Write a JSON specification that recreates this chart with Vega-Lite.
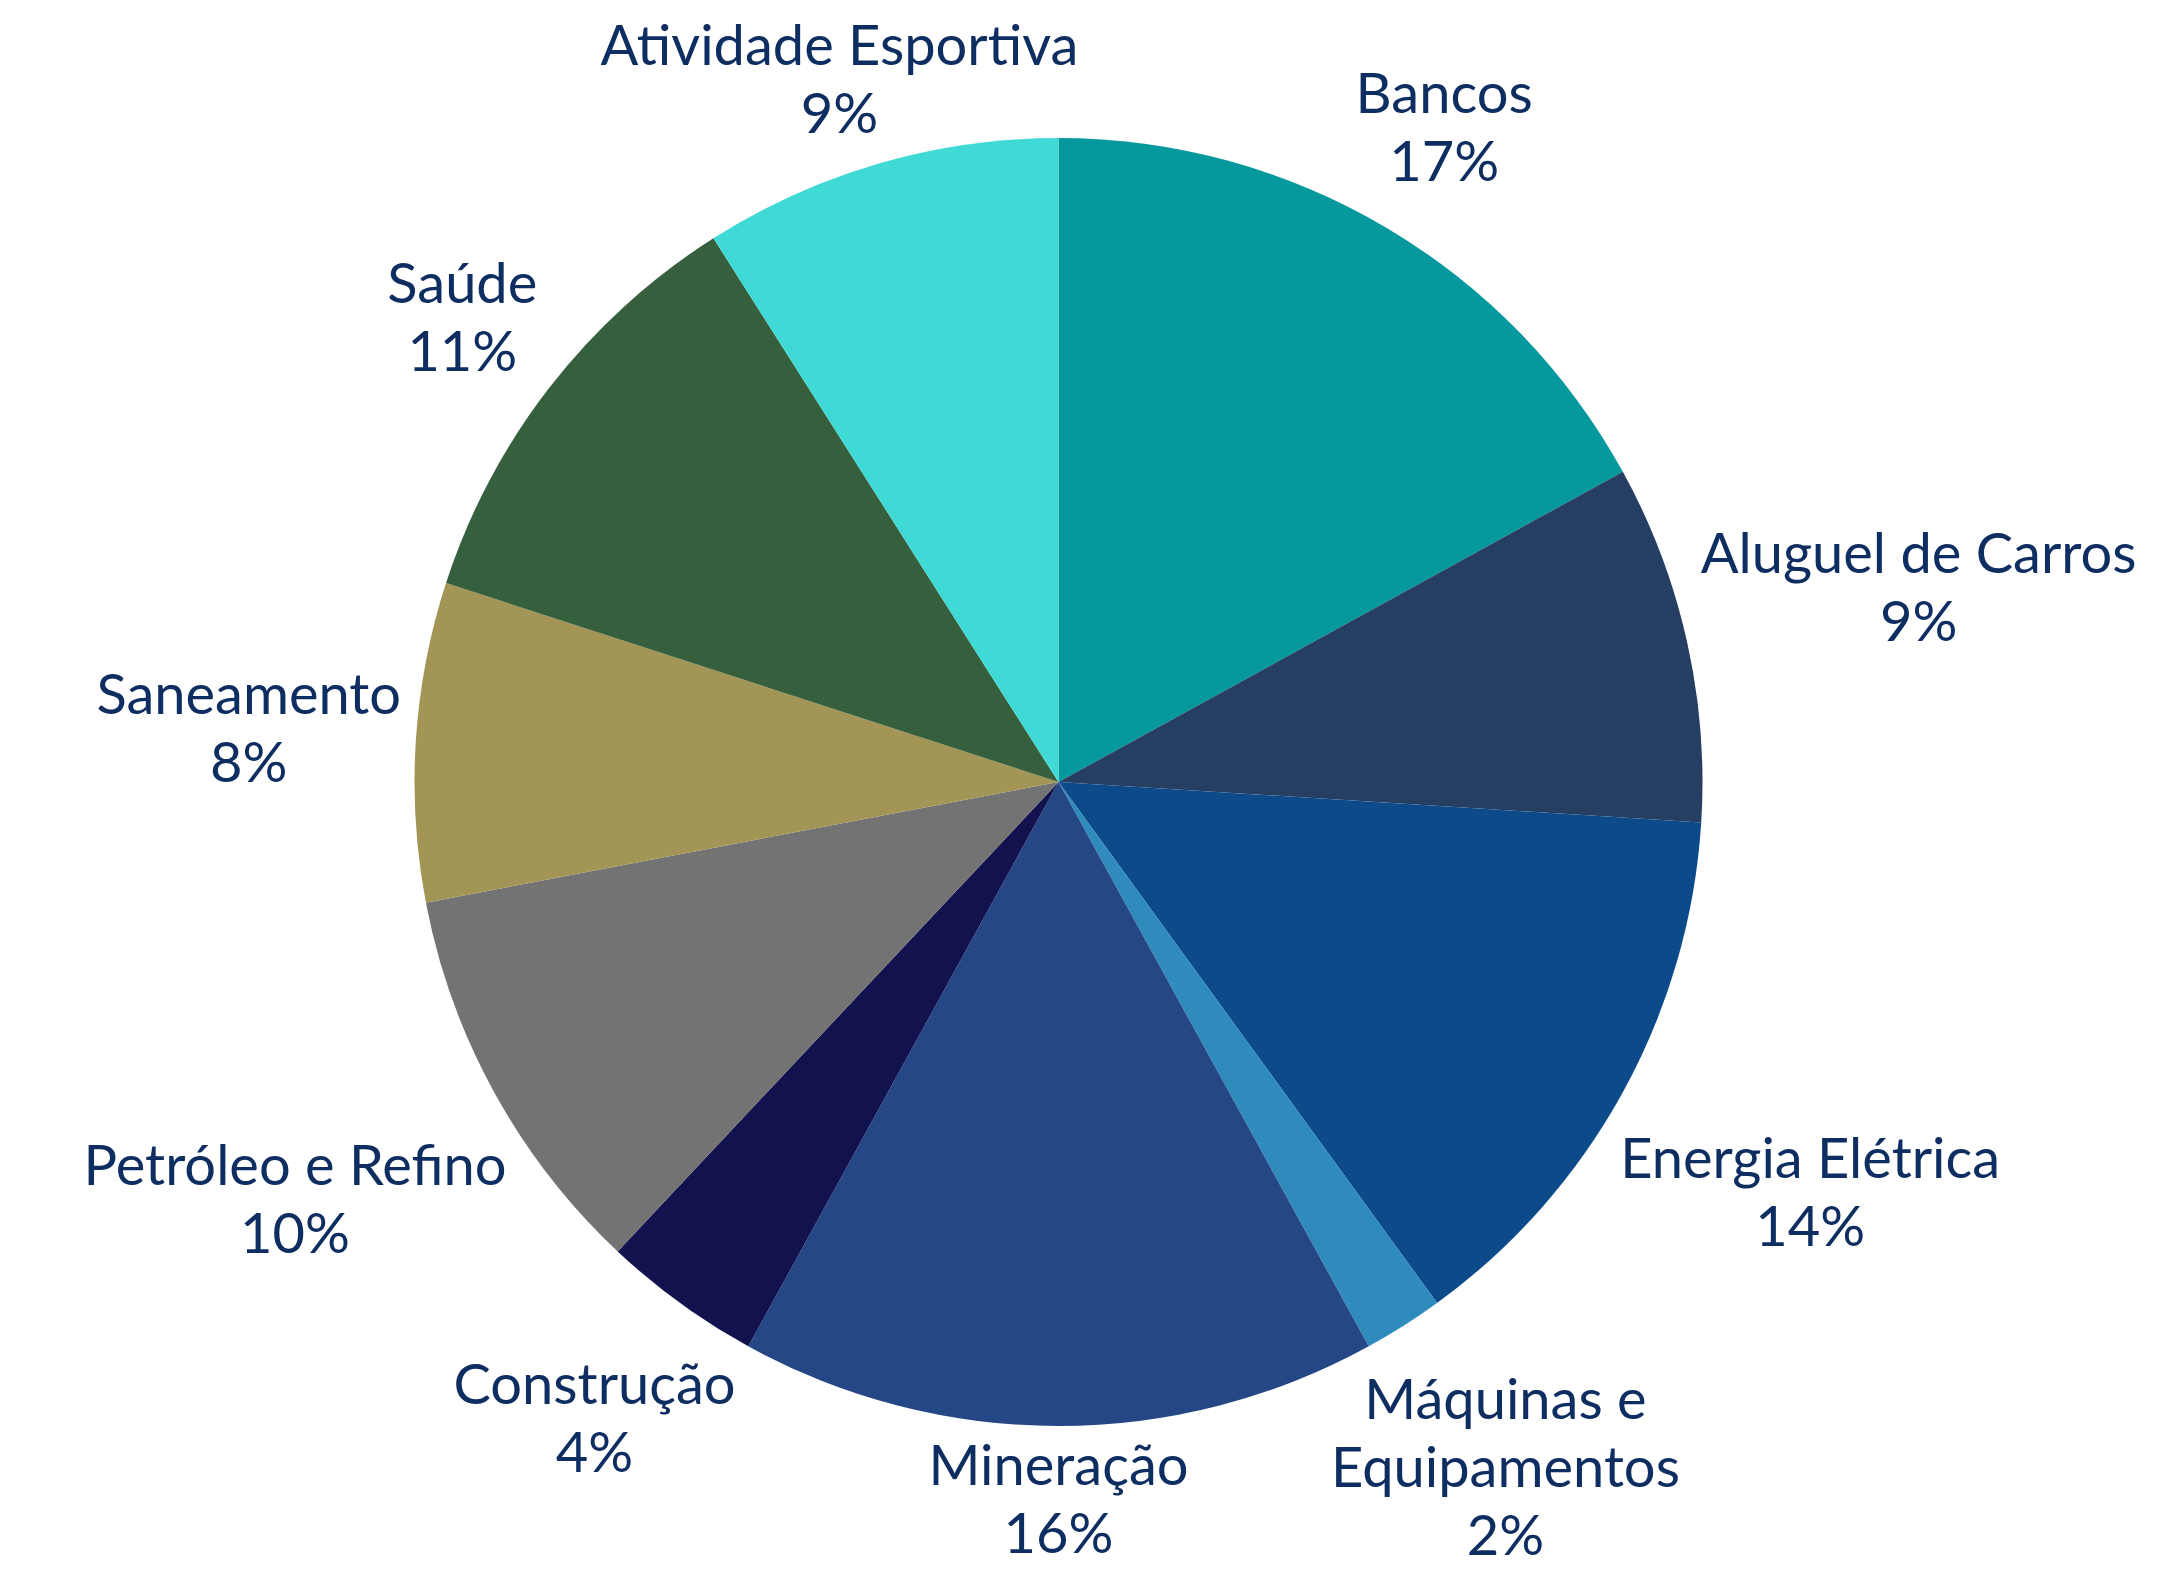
{
  "$schema": "https://vega.github.io/schema/vega-lite/v6.json",
  "width": 2117,
  "height": 1564,
  "autosize": {"type": "none"},
  "padding": {"left": 0, "top": 0, "right": 50, "bottom": 12},
  "background": "white",
  "view": {"stroke": null},
  "data": {
    "values": [
      {"ordem": 1, "setor": "Bancos", "pct": 17},
      {"ordem": 2, "setor": "Aluguel de Carros", "pct": 9},
      {"ordem": 3, "setor": "Energia Elétrica", "pct": 14},
      {"ordem": 4, "setor": "Máquinas e\nEquipamentos", "pct": 2},
      {"ordem": 5, "setor": "Mineração", "pct": 16},
      {"ordem": 6, "setor": "Construção", "pct": 4},
      {"ordem": 7, "setor": "Petróleo e Refino", "pct": 10},
      {"ordem": 8, "setor": "Saneamento", "pct": 8},
      {"ordem": 9, "setor": "Saúde", "pct": 11},
      {"ordem": 10, "setor": "Atividade Esportiva", "pct": 9}
    ]
  },
  "encoding": {
    "theta": {"field": "pct", "type": "quantitative", "stack": true},
    "order": {"field": "ordem", "type": "quantitative"}
  },
  "layer": [
    {
      "mark": {"type": "arc", "outerRadius": 644},
      "encoding": {
        "color": {
          "field": "setor",
          "type": "nominal",
          "legend": null,
          "scale": {
            "domain": ["Bancos", "Aluguel de Carros", "Energia Elétrica", "Máquinas e\nEquipamentos", "Mineração", "Construção", "Petróleo e Refino", "Saneamento", "Saúde", "Atividade Esportiva"],
            "range": ["#05999D", "#253E62", "#0C4A8A", "#2E8BBC", "#254786", "#12124F", "#737373", "#A29555", "#365F3E", "#40DAD6"]
          }
        }
      }
    },
    {
      "mark": {
        "type": "text",
        "font": "Lato",
        "fontSize": 56,
        "lineHeight": 68,
        "lineBreak": "\n",
        "color": "#0E2E62",
        "align": "center",
        "baseline": "middle",
        "text": {"expr": "datum.setor + '\\n' + datum.pct + '%'"},
        "radius": {"expr": "(652 + (15.4*length((indexof(datum.setor,'\\n')<0 ? datum.setor : substring(datum.setor, indexof(datum.setor,'\\n')+1))) - 7*length(replace((indexof(datum.setor,'\\n')<0 ? datum.setor : substring(datum.setor, indexof(datum.setor,'\\n')+1)), regexp('[^iltrfjI ]','g'), '')) + 8.4*length(replace((indexof(datum.setor,'\\n')<0 ? datum.setor : substring(datum.setor, indexof(datum.setor,'\\n')+1)), regexp('[^mMwW]','g'), '')))*abs(sin(PI*(datum.pct_start+datum.pct_end)/100)) + 34*(indexof(datum.setor,'\\n')<0 ? 2 : 3)*abs(cos(PI*(datum.pct_start+datum.pct_end)/100)))"},
        "dy": {"expr": "-34*((indexof(datum.setor,'\\n')<0 ? 2 : 3)-1) + max(0, 14 + 34*(indexof(datum.setor,'\\n')<0 ? 2 : 3) - (height/2 - (652 + (15.4*length((indexof(datum.setor,'\\n')<0 ? datum.setor : substring(datum.setor, indexof(datum.setor,'\\n')+1))) - 7*length(replace((indexof(datum.setor,'\\n')<0 ? datum.setor : substring(datum.setor, indexof(datum.setor,'\\n')+1)), regexp('[^iltrfjI ]','g'), '')) + 8.4*length(replace((indexof(datum.setor,'\\n')<0 ? datum.setor : substring(datum.setor, indexof(datum.setor,'\\n')+1)), regexp('[^mMwW]','g'), '')))*abs(sin(PI*(datum.pct_start+datum.pct_end)/100)) + 34*(indexof(datum.setor,'\\n')<0 ? 2 : 3)*abs(cos(PI*(datum.pct_start+datum.pct_end)/100)))*cos(PI*(datum.pct_start+datum.pct_end)/100))) - max(0, (height/2 - (652 + (15.4*length((indexof(datum.setor,'\\n')<0 ? datum.setor : substring(datum.setor, indexof(datum.setor,'\\n')+1))) - 7*length(replace((indexof(datum.setor,'\\n')<0 ? datum.setor : substring(datum.setor, indexof(datum.setor,'\\n')+1)), regexp('[^iltrfjI ]','g'), '')) + 8.4*length(replace((indexof(datum.setor,'\\n')<0 ? datum.setor : substring(datum.setor, indexof(datum.setor,'\\n')+1)), regexp('[^mMwW]','g'), '')))*abs(sin(PI*(datum.pct_start+datum.pct_end)/100)) + 34*(indexof(datum.setor,'\\n')<0 ? 2 : 3)*abs(cos(PI*(datum.pct_start+datum.pct_end)/100)))*cos(PI*(datum.pct_start+datum.pct_end)/100)) + 34*(indexof(datum.setor,'\\n')<0 ? 2 : 3) - 1572)"}
      }
    }
  ]
}
